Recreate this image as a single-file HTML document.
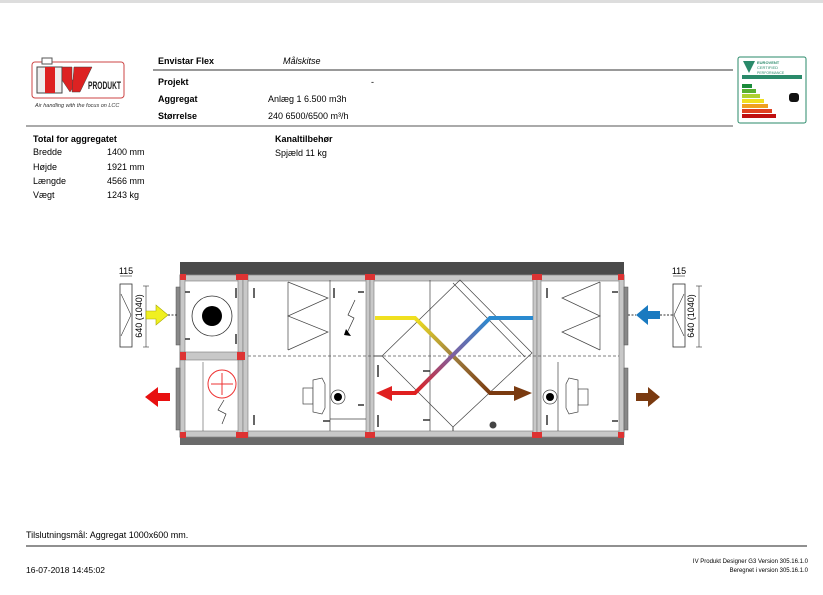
<!DOCTYPE html>
<html><head><meta charset="utf-8"><style>
body{margin:0;width:823px;height:590px;background:#fff;overflow:hidden;font-family:"Liberation Sans",Arial,sans-serif;}
</style></head><body>
<svg width="823" height="590" viewBox="0 0 823 590" xmlns="http://www.w3.org/2000/svg" font-family="Liberation Sans, Arial, sans-serif">
<defs>
<linearGradient id="yb" x1="415" y1="318" x2="490" y2="393" gradientUnits="userSpaceOnUse"><stop offset="0" stop-color="#f0e020"/><stop offset="0.5" stop-color="#a08040"/><stop offset="1" stop-color="#7a3a10"/></linearGradient>
<linearGradient id="br" x1="490" y1="318" x2="415" y2="393" gradientUnits="userSpaceOnUse"><stop offset="0" stop-color="#2a8ad0"/><stop offset="0.5" stop-color="#8060a0"/><stop offset="1" stop-color="#e02020"/></linearGradient>
</defs>
<rect x="0" y="0" width="823" height="3" fill="#ddd"/>
<!-- logo -->
<rect x="32" y="62" width="92" height="36" rx="3" fill="#fff" stroke="#c44" stroke-width="1"/>
<rect x="42" y="58" width="10" height="6" fill="#fff" stroke="#555"/>
<path d="M37 67 L62 67 L62 93 L37 93 Z" fill="#eee" stroke="#444"/>
<path d="M45 67 L55 67 L55 93 L45 93 Z" fill="#d22"/>
<path d="M62 67 L72 67 L72 80 L78 80 L70 92 L62 80 Z" fill="#d22" stroke="#444" stroke-width="0.5"/>
<path d="M74 67 L92 67 L80 92 L72 92 Z" fill="#d22" stroke="#444" stroke-width="0.5"/>
<text x="88" y="89" font-size="11" font-weight="bold" fill="#222" textLength="33" lengthAdjust="spacingAndGlyphs">PRODUKT</text>
<text x="35" y="107" font-size="5.5" font-style="italic" fill="#333">Air handling with the focus on LCC</text>
<!-- header -->
<text x="158" y="64" font-size="9" font-weight="bold">Envistar Flex</text>
<text x="283" y="64" font-size="9" font-style="italic">Målskitse</text>
<line x1="153" y1="70" x2="733" y2="70" stroke="#333" stroke-width="1"/>
<text x="158" y="85" font-size="9" font-weight="bold">Projekt</text>
<text x="371" y="85" font-size="9">-</text>
<text x="158" y="102" font-size="9" font-weight="bold">Aggregat</text>
<text x="268" y="102" font-size="9">Anlæg 1 6.500 m3h</text>
<text x="158" y="119" font-size="9" font-weight="bold">Størrelse</text>
<text x="268" y="119" font-size="9">240   6500/6500 m³/h</text>
<line x1="26" y1="126" x2="733" y2="126" stroke="#555" stroke-width="1"/>
<!-- eurovent -->
<rect x="738" y="57" width="68" height="66" rx="2" fill="#fff" stroke="#2a8a6a" stroke-width="1"/>
<path d="M743 61 L755 61 L749 73 Z" fill="#2a8a6a"/>
<text x="757" y="64" font-size="4" fill="#2a8a6a" font-weight="bold">EUROVENT</text>
<text x="757" y="69" font-size="4" fill="#2a8a6a">CERTIFIED</text>
<text x="757" y="74" font-size="3.5" fill="#2a8a6a">PERFORMANCE</text>
<rect x="742" y="75" width="60" height="4" fill="#2a8a6a"/>
<rect x="742" y="84" width="10" height="4" fill="#1a8a3a"/>
<rect x="742" y="89" width="14" height="4" fill="#5ab030"/>
<rect x="742" y="94" width="18" height="4" fill="#b0d030"/>
<rect x="742" y="99" width="22" height="4" fill="#f0e020"/>
<rect x="742" y="104" width="26" height="4" fill="#f0a020"/>
<rect x="742" y="109" width="30" height="4" fill="#e04020"/>
<rect x="742" y="114" width="34" height="4" fill="#c01010"/>
<rect x="789" y="93" width="10" height="9" rx="3" fill="#111"/>
<!-- totals -->
<text x="33" y="142" font-size="9" font-weight="bold">Total for aggregatet</text>
<text x="33" y="155" font-size="9">Bredde</text><text x="107" y="155" font-size="9">1400 mm</text>
<text x="33" y="170" font-size="9">Højde</text><text x="107" y="170" font-size="9">1921 mm</text>
<text x="33" y="184" font-size="9">Længde</text><text x="107" y="184" font-size="9">4566 mm</text>
<text x="33" y="198" font-size="9">Vægt</text><text x="107" y="198" font-size="9">1243 kg</text>
<text x="275" y="142" font-size="9" font-weight="bold">Kanaltilbehør</text>
<text x="275" y="156" font-size="9">Spjæld 11 kg</text>

<!-- unit -->
<rect x="180" y="262" width="444" height="13" fill="#4a4a4a"/>
<rect x="180" y="437" width="444" height="8" fill="#6a6a6a"/>
<rect x="180" y="275" width="444" height="162" fill="#fff" stroke="#888"/>
<g fill="#c8c8c8" stroke="#777" stroke-width="0.6">
<rect x="180" y="275" width="444" height="6"/>
<rect x="180" y="431" width="444" height="6"/>
<rect x="180" y="275" width="5" height="162"/>
<rect x="619" y="275" width="5" height="162"/>
<rect x="238" y="275" width="5" height="162"/>
<rect x="243" y="275" width="5" height="162"/>
<rect x="366" y="275" width="4" height="162"/>
<rect x="370" y="275" width="4" height="162"/>
<rect x="533" y="275" width="4" height="162"/>
<rect x="537" y="275" width="4" height="162"/>
<rect x="180" y="352" width="63" height="8"/>
</g>
<g fill="#888" stroke="#555" stroke-width="0.5">
<rect x="176" y="287" width="4" height="58"/><rect x="176" y="368" width="4" height="62"/>
<rect x="624" y="287" width="4" height="58"/><rect x="624" y="368" width="4" height="62"/>
</g>
<g fill="#d33">
<rect x="180" y="274" width="6" height="6"/><rect x="236" y="274" width="12" height="6"/><rect x="365" y="274" width="10" height="6"/><rect x="532" y="274" width="10" height="6"/><rect x="618" y="274" width="6" height="6"/>
<rect x="180" y="432" width="6" height="6"/><rect x="236" y="432" width="12" height="6"/><rect x="365" y="432" width="10" height="6"/><rect x="532" y="432" width="10" height="6"/><rect x="618" y="432" width="6" height="6"/>
<rect x="180" y="352" width="6" height="8"/><rect x="237" y="352" width="8" height="8"/>
</g>
<line x1="248" y1="356" x2="619" y2="356" stroke="#555" stroke-width="0.7" stroke-dasharray="3,2"/>
<!-- section1 -->
<circle cx="212" cy="316" r="20" fill="#fff" stroke="#333" stroke-width="0.8"/>
<circle cx="212" cy="316" r="10" fill="#000"/>
<line x1="203" y1="362" x2="203" y2="431" stroke="#555" stroke-width="0.6"/>
<circle cx="222" cy="384" r="14" fill="none" stroke="#e33" stroke-width="1"/>
<path d="M211 384 H233 M222 373 V395" stroke="#e33" stroke-width="1"/>
<path d="M224 400 L218 410 L226 414 L222 424" stroke="#333" stroke-width="0.7" fill="none"/>
<g stroke="#333" stroke-width="1.5"><line x1="185" y1="292" x2="190" y2="292"/><line x1="185" y1="339" x2="190" y2="339"/><line x1="236" y1="288" x2="236" y2="298"/><line x1="236" y1="334" x2="236" y2="344"/></g>
<!-- section2 -->
<path d="M288 282 L328 298 L288 316 L328 332 L288 350" fill="none" stroke="#444" stroke-width="0.7"/>
<line x1="288" y1="282" x2="288" y2="350" stroke="#444" stroke-width="0.7"/>
<line x1="330" y1="280" x2="330" y2="431" stroke="#444" stroke-width="0.7"/>
<line x1="330" y1="419" x2="366" y2="419" stroke="#444" stroke-width="0.7"/>
<path d="M355 300 L348 315 L354 318 L347 333" stroke="#333" stroke-width="0.7" fill="none"/>
<path d="M346 329 L351 336 L344 335 Z" fill="#000"/>
<g stroke="#333" stroke-width="1.5"><line x1="254" y1="288" x2="254" y2="298"/><line x1="334" y1="288" x2="334" y2="298"/><line x1="254" y1="415" x2="254" y2="425"/><line x1="358" y1="292" x2="364" y2="292"/><line x1="358" y1="405" x2="364" y2="405"/><line x1="323" y1="421" x2="330" y2="421"/></g>
<g fill="#fff" stroke="#444" stroke-width="0.7">
<rect x="303" y="388" width="10" height="16"/>
<path d="M313 380 L322 378 L325 384 L325 408 L322 414 L313 412 Z"/>
<circle cx="338" cy="397" r="7"/>
</g>
<circle cx="338" cy="397" r="4" fill="#000"/>
<!-- heat exchanger section -->
<line x1="430" y1="280" x2="430" y2="431" stroke="#444" stroke-width="0.7"/>
<path d="M460 280 L532 353 L453 427 L382 356 Z" fill="none" stroke="#444" stroke-width="0.7"/>
<line x1="453" y1="283" x2="525" y2="357" stroke="#444" stroke-width="0.7"/>
<line x1="374" y1="356" x2="382" y2="356" stroke="#444"/>
<line x1="453" y1="427" x2="453" y2="431" stroke="#444"/>
<g stroke="#333" stroke-width="1.5"><line x1="378" y1="365" x2="378" y2="377"/><line x1="378" y1="415" x2="378" y2="427"/><line x1="423" y1="371" x2="430" y2="371"/><line x1="423" y1="420" x2="430" y2="420"/></g>
<circle cx="493" cy="425" r="3.5" fill="#444"/>
<polyline points="375,318 415,318 490,393 515,393" fill="none" stroke="url(#yb)" stroke-width="4"/>
<polyline points="375,318 415,318" fill="none" stroke="#f0e020" stroke-width="4"/>
<polyline points="490,393 516,393" fill="none" stroke="#7a3a10" stroke-width="4"/>
<path d="M514 386 L532 393 L514 401 Z" fill="#7a3a10"/>
<polyline points="533,318 490,318 415,393 390,393" fill="none" stroke="url(#br)" stroke-width="4"/>
<polyline points="533,318 490,318" fill="none" stroke="#2a8ad0" stroke-width="4"/>
<polyline points="415,393 390,393" fill="none" stroke="#e02020" stroke-width="4"/>
<path d="M392 386 L376 393 L392 401 Z" fill="#e02020"/>
<!-- section4 -->
<path d="M600 282 L562 298 L600 316 L562 332 L600 350" fill="none" stroke="#444" stroke-width="0.7"/>
<line x1="600" y1="282" x2="600" y2="350" stroke="#444" stroke-width="0.7"/>
<line x1="558" y1="362" x2="558" y2="431" stroke="#444" stroke-width="0.7"/>
<g stroke="#333" stroke-width="1.5"><line x1="547" y1="288" x2="547" y2="298"/><line x1="547" y1="415" x2="547" y2="425"/><line x1="612" y1="292" x2="618" y2="292"/><line x1="612" y1="421" x2="618" y2="421"/></g>
<g fill="#fff" stroke="#444" stroke-width="0.7">
<rect x="578" y="389" width="10" height="16"/>
<path d="M578 380 L569 378 L566 384 L566 408 L569 414 L578 412 Z"/>
<circle cx="550" cy="397" r="7"/>
</g>
<circle cx="550" cy="397" r="4" fill="#000"/>
<!-- left damper -->
<rect x="120" y="284" width="12" height="63" fill="#fff" stroke="#333" stroke-width="0.8"/>
<path d="M121 294 L131 315 L121 336" fill="none" stroke="#333" stroke-width="0.6"/>
<line x1="120" y1="276" x2="132" y2="276" stroke="#333" stroke-width="0.6"/>
<text x="126" y="274" font-size="9" text-anchor="middle">115</text>
<line x1="146" y1="286" x2="146" y2="347" stroke="#333" stroke-width="0.6"/>
<line x1="143" y1="286" x2="149" y2="286" stroke="#333" stroke-width="0.6"/><line x1="143" y1="347" x2="149" y2="347" stroke="#333" stroke-width="0.6"/>
<text transform="translate(142,316) rotate(-90)" font-size="9" text-anchor="middle">640 (1040)</text>
<path d="M146 311 L156 311 L156 305 L168 315 L156 325 L156 319 L146 319 Z" fill="#f0f020" stroke="#aa0" stroke-width="0.6"/>
<line x1="168" y1="315" x2="178" y2="315" stroke="#333" stroke-dasharray="2,1.5"/>
<path d="M170 393 L158 393 L158 387 L145 397 L158 407 L158 401 L170 401 Z" fill="#e81010"/>
<!-- right damper -->
<rect x="673" y="284" width="12" height="63" fill="#fff" stroke="#333" stroke-width="0.8"/>
<path d="M684 294 L674 315 L684 336" fill="none" stroke="#333" stroke-width="0.6"/>
<line x1="673" y1="276" x2="685" y2="276" stroke="#333" stroke-width="0.6"/>
<text x="679" y="274" font-size="9" text-anchor="middle">115</text>
<line x1="699" y1="286" x2="699" y2="347" stroke="#333" stroke-width="0.6"/>
<line x1="696" y1="286" x2="702" y2="286" stroke="#333" stroke-width="0.6"/><line x1="696" y1="347" x2="702" y2="347" stroke="#333" stroke-width="0.6"/>
<text transform="translate(694,316) rotate(-90)" font-size="9" text-anchor="middle">640 (1040)</text>
<path d="M660 311 L648 311 L648 305 L636 315 L648 325 L648 319 L660 319 Z" fill="#1a7ac0"/>
<line x1="660" y1="315" x2="673" y2="315" stroke="#333" stroke-dasharray="2,1.5"/>
<line x1="628" y1="315" x2="636" y2="315" stroke="#333" stroke-dasharray="2,1.5"/>
<path d="M636 393 L648 393 L648 387 L660 397 L648 407 L648 401 L636 401 Z" fill="#7a3a10"/>
<!-- footer -->
<text x="26" y="538" font-size="9">Tilslutningsmål: Aggregat 1000x600 mm.</text>
<line x1="26" y1="546" x2="807" y2="546" stroke="#222" stroke-width="1"/>
<text x="26" y="573" font-size="8.5">16-07-2018 14:45:02</text>
<text x="808" y="563" font-size="6" text-anchor="end">IV Produkt Designer G3 Version 305.16.1.0</text>
<text x="808" y="572" font-size="6" text-anchor="end">Beregnet i version 305.16.1.0</text>
</svg>
</body></html>
